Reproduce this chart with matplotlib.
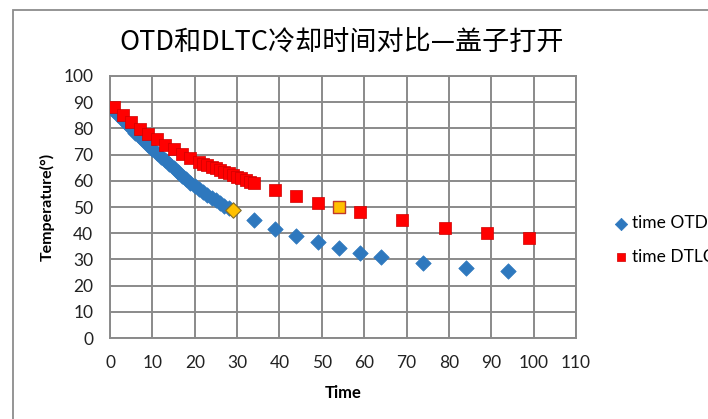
import matplotlib
matplotlib.use("Agg")
import matplotlib.pyplot as plt
from matplotlib.patches import Rectangle

# ---- data ----
otd_x = list(range(1, 29)) + [34, 39, 44, 49, 54, 59, 64, 74, 84, 94]
otd_y = [86.5, 85.0, 83.3, 81.7, 80.0, 78.4, 76.8, 75.2, 73.6, 72.0,
         70.6, 69.2, 67.8, 66.4, 64.9, 63.4, 62.0, 60.6, 59.3, 58.0,
         56.8, 55.7, 54.6, 53.5, 52.5, 51.5, 50.5, 49.6,
         45.0, 41.6, 38.8, 36.6, 34.4, 32.5, 31.0, 28.8, 26.7, 25.7]
otd_hl_x = [29]
otd_hl_y = [48.7]

dtlc_x = [1, 3, 5, 7, 9, 11, 13, 15, 17, 19] + list(range(21, 35)) + [39, 44, 49, 59, 69, 79, 89, 99]
dtlc_y = [88.0, 85.1, 82.3, 79.7, 77.9, 75.8, 73.7, 72.0, 70.2, 68.6,
          67.1, 66.5, 65.9, 65.3, 64.7, 64.1, 63.5, 62.9, 62.3, 61.6, 61.0, 60.4, 59.7, 59.0,
          56.5, 54.2, 51.6, 48.0, 45.0, 42.0, 40.0, 38.0]
dtlc_hl_x = [54]
dtlc_hl_y = [50.0]

title = "OTD和DLTC冷却时间对比—盖子打开"
x_ticks = list(range(0, 111, 10))
y_ticks = list(range(0, 101, 10))

plt.rcParams['font.family'] = ['Lato', 'DejaVu Sans']

W, H = 708, 419
fig = plt.figure(figsize=(W / 100, H / 100), dpi=100)
fig.patch.set_facecolor('white')

# chart-area border
fig.add_artist(Rectangle((13 / W, -0.1), 1.2, (H - 10) / H + 0.1, transform=fig.transFigure,
                         fill=False, edgecolor='#8c8c8c', linewidth=1.3))

ax = fig.add_axes([110 / W, 1 - 338 / H, (576 - 110) / W, (338 - 76) / H])
grid_c = '#8a8a8a'
ax.set_xlim(0, 110)
ax.set_ylim(0, 100)
ax.set_xticks(x_ticks)
ax.set_yticks(y_ticks)
ax.grid(True, color=grid_c, linewidth=1.4)
ax.set_axisbelow(True)
for s in ax.spines.values():
    s.set_color(grid_c)
    s.set_linewidth(1.4)
ax.tick_params(length=0, labelsize=12.5, colors='#222222', pad=12)

blue = '#2E78BE'
red = '#FF0000'
ax.scatter(otd_x, otd_y, marker='D', s=62, color=blue, edgecolors=blue, linewidths=0.5,
           label='time OTD', zorder=3)
ax.scatter(otd_hl_x, otd_hl_y, marker='D', s=62, color='#FFC000', edgecolors='#7f6a2a',
           linewidths=0.8, zorder=4)
ax.scatter(dtlc_x, dtlc_y, marker='s', s=64, color=red, edgecolors='#d00000', linewidths=0.5,
           label='time DTLC', zorder=3)
ax.scatter(dtlc_hl_x, dtlc_hl_y, marker='s', s=64, color='#FFC000', edgecolors='#c0392b',
           linewidths=1.0, zorder=4)

ax.set_xlabel('Time', fontsize=12, fontweight='bold', labelpad=10)
ax.set_ylabel('Temperature(°)', fontsize=11.5, fontweight='bold', labelpad=6)

fig.text(342 / W, 1 - 42 / H, title, ha='center', va='center', fontsize=19.5,
         family=['Noto Sans CJK SC', 'DejaVu Sans'])

leg = ax.legend(loc='center left', bbox_to_anchor=(604 / W, 1 - 240 / H), bbox_transform=fig.transFigure,
                frameon=False, fontsize=12.5, handletextpad=0.0, labelspacing=1.0,
                markerscale=0.8, borderaxespad=0, handlelength=1.2)

fig.savefig('out.png', dpi=100, facecolor='white')
